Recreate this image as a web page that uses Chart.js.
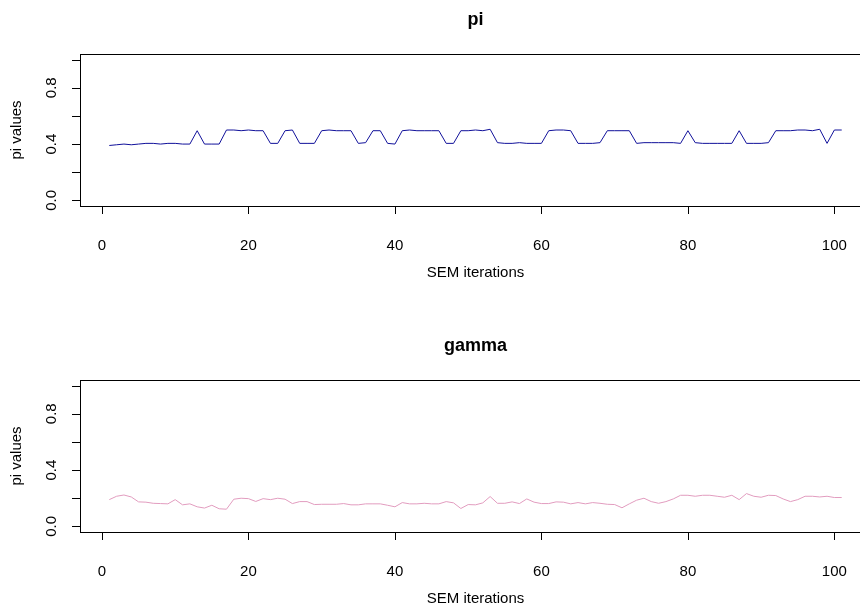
<!DOCTYPE html>
<html lang="en">
<head>
  <meta charset="UTF-8">
  <title>pi / gamma SEM iterations</title>
  <script src="https://cdn.jsdelivr.net/npm/chart.js"></script>
  <style>
    body {
      margin: 0;
      background: #fff;
      overflow: hidden;
      width: 860px;
      height: 605px;
      position: relative;
    }
    .panel {
      position: absolute;
      left: 0;
    }
  </style>
</head>
<body>

  <div class="panel" style="top: 0;"><canvas id="piChart" width="880" height="326"></canvas></div>
  <div class="panel" style="top: 326px;"><canvas id="gammaChart" width="880" height="326"></canvas></div>

  <script>
    // iteration index 1..101
    const iterations = Array.from({ length: 101 }, (_, i) => i + 1);

    const piValues = [
      0.39, 0.395, 0.40, 0.395, 0.40, 0.405, 0.405, 0.40, 0.405, 0.405,
      0.40, 0.40, 0.495, 0.40, 0.40, 0.40, 0.50, 0.50, 0.495, 0.50,
      0.495, 0.495, 0.405, 0.405, 0.495, 0.50, 0.405, 0.405, 0.405, 0.495,
      0.50, 0.495, 0.495, 0.495, 0.405, 0.41, 0.495, 0.495, 0.405, 0.40,
      0.495, 0.50, 0.495, 0.495, 0.495, 0.495, 0.405, 0.405, 0.495, 0.495,
      0.50, 0.495, 0.505, 0.41, 0.405, 0.405, 0.41, 0.405, 0.405, 0.405,
      0.495, 0.50, 0.50, 0.495, 0.405, 0.405, 0.405, 0.41, 0.495, 0.495,
      0.495, 0.495, 0.405, 0.41, 0.41, 0.41, 0.41, 0.41, 0.405, 0.495,
      0.41, 0.405, 0.405, 0.405, 0.405, 0.405, 0.495, 0.405, 0.405, 0.405,
      0.41, 0.495, 0.495, 0.495, 0.50, 0.50, 0.495, 0.505, 0.405, 0.50,
      0.50
    ];

    const gammaValues = [
      0.19, 0.214, 0.223, 0.209, 0.174, 0.172, 0.164, 0.162, 0.16, 0.19,
      0.153, 0.16, 0.139, 0.13, 0.15, 0.125, 0.122, 0.193, 0.20, 0.197,
      0.177, 0.197, 0.19, 0.20, 0.193, 0.162, 0.176, 0.176, 0.155, 0.157,
      0.157, 0.157, 0.162, 0.153, 0.153, 0.16, 0.16, 0.16, 0.15, 0.139,
      0.169, 0.16, 0.16, 0.164, 0.16, 0.16, 0.176, 0.167, 0.127, 0.155,
      0.153, 0.167, 0.212, 0.164, 0.164, 0.174, 0.162, 0.195, 0.172, 0.162,
      0.162, 0.174, 0.172, 0.16, 0.169, 0.16, 0.169, 0.164, 0.157, 0.155,
      0.132, 0.16, 0.186, 0.20, 0.176, 0.164, 0.176, 0.195, 0.221, 0.221,
      0.214, 0.221, 0.221, 0.214, 0.207, 0.221, 0.19, 0.233, 0.214, 0.207,
      0.221, 0.219, 0.195, 0.176, 0.19, 0.214, 0.214, 0.209, 0.214, 0.205,
      0.205
    ];

    const xTicks = [0, 20, 40, 60, 80, 100];
    const yTicks = [0, 0.2, 0.4, 0.6, 0.8, 1.0];
    const yTickLabels = ['0.0', '', '0.4', '', '0.8', ''];

    const FONT = '"Liberation Sans", Arial, sans-serif';

    // R-style box, ticks and labels drawn from the chart's scales
    const rAxes = {
      id: 'rAxes',
      afterDraw(chart, args, opts) {
        const { ctx, chartArea: a, scales: { x, y } } = chart;
        ctx.save();
        ctx.strokeStyle = '#000';
        ctx.lineWidth = 1;
        ctx.strokeRect(Math.round(a.left) + 0.5, Math.round(a.top) + 0.5,
                       Math.round(a.right - a.left), Math.round(a.bottom - a.top));

        ctx.beginPath();
        xTicks.forEach(v => {
          const px = Math.round(x.getPixelForValue(v)) + 0.5;
          ctx.moveTo(px, Math.round(a.bottom));
          ctx.lineTo(px, Math.round(a.bottom) + 8);
        });
        yTicks.forEach(v => {
          const py = Math.round(y.getPixelForValue(v)) + 0.5;
          ctx.moveTo(Math.round(a.left), py);
          ctx.lineTo(Math.round(a.left) - 8, py);
        });
        ctx.stroke();

        ctx.fillStyle = '#000';
        ctx.textAlign = 'center';
        ctx.textBaseline = 'middle';
        ctx.font = '15px ' + FONT;
        xTicks.forEach(v => ctx.fillText(String(v), x.getPixelForValue(v), a.bottom + 40));
        yTickLabels.forEach((t, i) => {
          if (!t) return;
          ctx.save();
          ctx.translate(52, y.getPixelForValue(yTicks[i]));
          ctx.rotate(-Math.PI / 2);
          ctx.fillText(t, 0, 0);
          ctx.restore();
        });

        const cx = (x.getPixelForValue(-3) + x.getPixelForValue(105)) / 2;
        ctx.fillText(opts.xTitle, cx, a.bottom + 67);
        ctx.save();
        ctx.translate(17, (a.top + a.bottom) / 2);
        ctx.rotate(-Math.PI / 2);
        ctx.fillText(opts.yTitle, 0, 0);
        ctx.restore();

        ctx.font = 'bold 18px ' + FONT;
        ctx.fillText(opts.title, cx, a.top - 34);
        ctx.restore();
      }
    };

    function renderPanel(id, title, values, color) {
      const ctx = document.getElementById(id).getContext('2d');
      new Chart(ctx, {
        type: 'line',
        data: {
          datasets: [{
            data: iterations.map((it, i) => ({ x: it, y: values[i] })),
            borderColor: color,
            borderWidth: 1,
            pointRadius: 0,
            tension: 0,
            fill: false
          }]
        },
        options: {
          responsive: false,
          animation: false,
          layout: { padding: { left: 80, top: 54, right: 9, bottom: 120 } },
          scales: {
            x: { type: 'linear', min: -3, max: 105, display: false },
            y: { min: -0.04, max: 1.04, display: false }
          },
          plugins: {
            legend: { display: false },
            tooltip: { enabled: false },
            rAxes: { title: title, xTitle: 'SEM iterations', yTitle: 'pi values' }
          }
        },
        plugins: [rAxes]
      });
    }

    renderPanel('piChart', 'pi', piValues, '#10109A');
    renderPanel('gammaChart', 'gamma', gammaValues, '#E29CBF');
  </script>

</body>
</html>
